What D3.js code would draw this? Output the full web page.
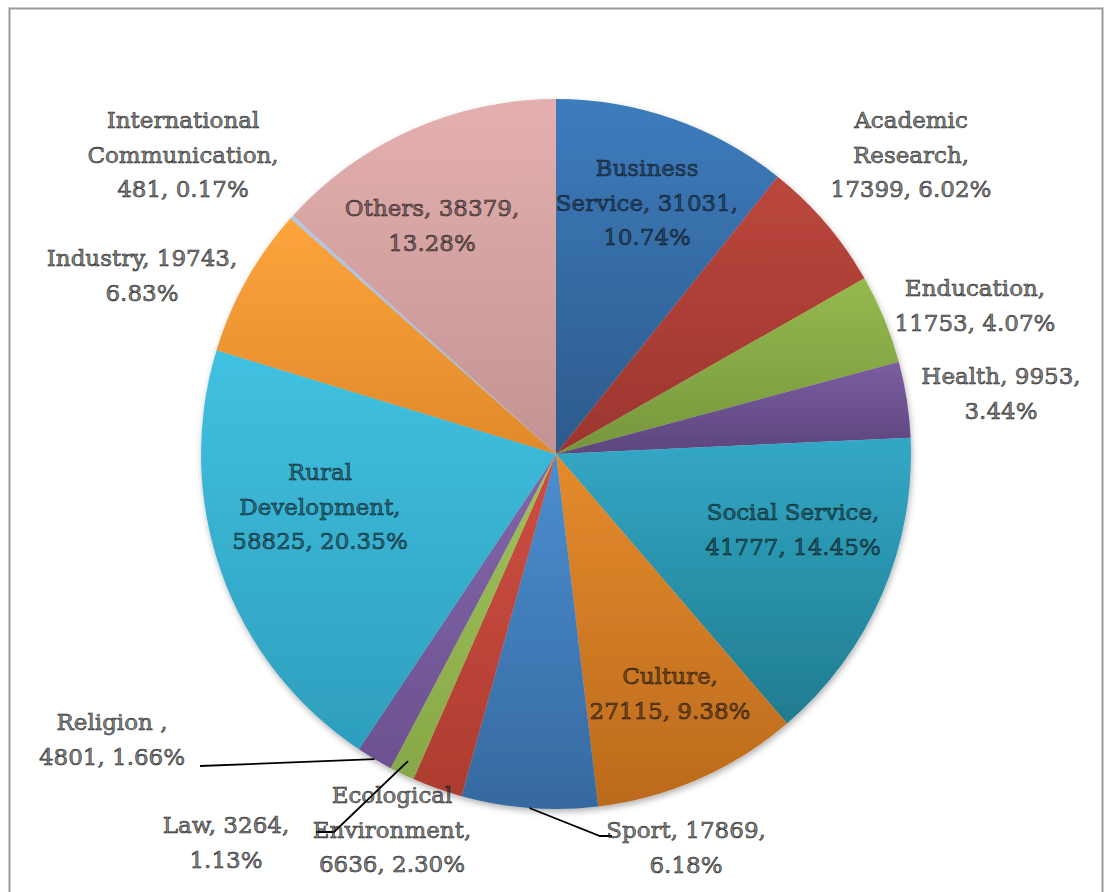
<!DOCTYPE html>
<html>
<head>
<meta charset="utf-8">
<script src="https://cdn.jsdelivr.net/npm/d3@7"></script>
<style>
  body { margin: 0; background: #fff; }
  svg { display: block; }
  .lbl { font-family: "DejaVu Serif", serif; font-size: 23px; }
</style>
</head>
<body>
<script>
// _____________ data
var categories = ['Business Service', 'Academic Research', 'Enducation', 'Health', 'Social Service',
  'Culture', 'Sport', 'Ecological Environment', 'Law', 'Religion', 'Rural Development',
  'Industry', 'International Communication', 'Others']
var counts = [31031, 17399, 11753, 9953, 41777, 27115, 17869, 6636, 3264, 4801, 58825, 19743, 481, 38379]
var percents = ['10.74%', '6.02%', '4.07%', '3.44%', '14.45%', '9.38%', '6.18%', '2.30%', '1.13%',
  '1.66%', '20.35%', '6.83%', '0.17%', '13.28%']
// how each label breaks into lines (as in the picture)
var labelLines = [
  ['Business', 'Service, 31031,', '10.74%'],
  ['Academic', 'Research,', '17399, 6.02%'],
  ['Enducation,', '11753, 4.07%'],
  ['Health, 9953,', '3.44%'],
  ['Social Service,', '41777, 14.45%'],
  ['Culture,', '27115, 9.38%'],
  ['Sport, 17869,', '6.18%'],
  ['Ecological', 'Environment,', '6636, 2.30%'],
  ['Law, 3264,', '1.13%'],
  ['Religion ,', '4801, 1.66%'],
  ['Rural', 'Development,', '58825, 20.35%'],
  ['Industry, 19743,', '6.83%'],
  ['International', 'Communication,', '481, 0.17%'],
  ['Others, 38379,', '13.28%']
]

// _____________ styles
var colorsTop = ['#3d7cbd', '#bb473d', '#96b94f', '#7b5d9f', '#33a8c6', '#e48b2d', '#4b8ed0',
  '#cf4e42', '#9fc25b', '#8266a9', '#41c1e1', '#fda43c', '#b3c8e5', '#e4afaf']
var colorsBottom = ['#2d5a8b', '#9c352e', '#76963c', '#5c457e', '#207b8f', '#bb6a1c', '#3669a0',
  '#ad3d31', '#88a847', '#6c5290', '#2e9ebd', '#e0892a', '#a3b9d8', '#c39393']

// label anchor: offset of the first baseline from the pie centre
var labelOffset = [[91, -278], [355, -326], [419, -158], [445, -70], [237, 66], [114, 230],
  [130, 384], [-164, 349], [-330, 379], [-444, 276], [-236, 26], [-414, -188], [-373, -326], [-124, -238]]
var insideLabel = [true, false, false, false, true, true, false, false, false, false, true, false, false, true]

var width = 1104, height = 892
var cx = 556, cy = 454, radius = 355
var lineH = 34.5

var svg = d3.select('body').append('svg')
  .attr('width', width)
  .attr('height', height)

// frame
svg.append('rect')
  .attr('x', 9.5).attr('y', 8.5)
  .attr('width', 1093).attr('height', 900)
  .attr('fill', 'none')
  .attr('stroke', '#9a9a9a')
  .attr('stroke-width', 2)

var defs = svg.append('defs')
var shadow = defs.append('filter').attr('id', 'shadow')
  .attr('x', '-10%').attr('y', '-10%').attr('width', '120%').attr('height', '120%')
shadow.append('feDropShadow')
  .attr('dx', 1).attr('dy', 3).attr('stdDeviation', 3)
  .attr('flood-color', '#000').attr('flood-opacity', 0.3)

categories.forEach(function (c, i) {
  var g = defs.append('linearGradient')
    .attr('id', 'grad' + i)
    .attr('x1', 0).attr('y1', 0).attr('x2', 0).attr('y2', 1)
  g.append('stop').attr('offset', '0%').attr('stop-color', colorsTop[i])
  g.append('stop').attr('offset', '100%').attr('stop-color', colorsBottom[i])
})

var pie = d3.pie().sort(null).value(function (d) { return d })
var arcs = pie(counts)
var arc = d3.arc().innerRadius(0).outerRadius(radius)

var gPie = svg.append('g')
  .attr('transform', 'translate(' + cx + ',' + cy + ')')

gPie.append('g')
  .attr('filter', 'url(#shadow)')
  .selectAll('path')
  .data(arcs)
  .enter()
  .append('path')
    .attr('d', arc)
    .attr('fill', function (d, i) { return 'url(#grad' + i + ')' })

// _____________ leader lines
function edgePoint(d, k) {
  var a = (d.startAngle + d.endAngle) / 2
  return [Math.sin(a) * radius * k, -Math.cos(a) * radius * k]
}
var leaders = [
  { i: 9, pts: [[-356, 312]], k: 1.0 },
  { i: 8, pts: [[-240, 378], [-222, 378]], k: 0.96 },
  { i: 6, pts: [[56, 382], [44, 382]], k: 1.0 }
]
var line = d3.line()
gPie.selectAll('path.leader')
  .data(leaders)
  .enter()
  .append('path')
    .attr('class', 'leader')
    .attr('d', function (l) { return line(l.pts.concat([edgePoint(arcs[l.i], l.k)])) })
    .attr('fill', 'none')
    .attr('stroke', '#000')
    .attr('stroke-width', 1.8)

// _____________ labels
var labels = gPie.selectAll('text.lbl')
  .data(arcs)
  .enter()
  .append('text')
    .attr('class', 'lbl')
    .attr('text-anchor', 'middle')
    .attr('x', function (d, i) { return labelOffset[i][0] })
    .attr('y', function (d, i) { return labelOffset[i][1] })
    .attr('fill', function (d, i) { return insideLabel[i] ? '#000' : '#333' })
    .attr('fill-opacity', function (d, i) { return insideLabel[i] ? 0.4 : 0.6 })
    .attr('stroke', '#111')
    .attr('stroke-width', 0.6)
    .attr('stroke-opacity', 0.9)

labels.selectAll('tspan')
  .data(function (d, i) { return labelLines[i].map(function (t) { return { t: t, x: labelOffset[i][0] } }) })
  .enter()
  .append('tspan')
    .attr('x', function (d) { return d.x })
    .attr('dy', function (d, j) { return j === 0 ? 0 : lineH })
    .text(function (d) { return d.t })
</script>
</body>
</html>
